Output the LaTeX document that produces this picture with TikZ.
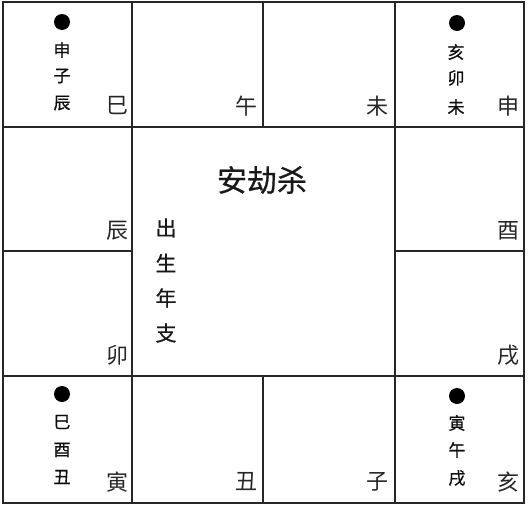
\documentclass[tikz,border=0pt]{standalone}
\usepackage{fontspec}
\newfontfamily\cjk{Noto Sans CJK SC}
\newfontfamily\cjkmed[FakeBold=0.6]{Noto Sans CJK SC}
\begin{document}
\begin{tikzpicture}[x=1pt,y=-1pt,
  grid/.style={draw=black!85,line width=2pt},
  branch/.style={font=\cjk\fontsize{22}{22}\selectfont,text=black!85,inner sep=0pt},
  small/.style={font=\cjkmed\fontsize{17}{17}\selectfont,text=black!95,inner sep=0pt},
  title/.style={font=\cjkmed\fontsize{30}{30}\selectfont,text=black!90,inner sep=0pt},
  side/.style={font=\cjkmed\fontsize{21}{21}\selectfont,text=black!90,inner sep=0pt},
  dot/.style={fill=black}]
\useasboundingbox (0,0) rectangle (528,506);
% grid
\draw[grid] (3,2) rectangle (524,503);
\draw[grid] (3,127) -- (524,127);
\draw[grid] (3,376) -- (524,376);
\draw[grid] (3,251) -- (132,251);
\draw[grid] (395,251) -- (524,251);
\draw[grid] (132,2) -- (132,503);
\draw[grid] (395,2) -- (395,503);
\draw[grid] (263,2) -- (263,127);
\draw[grid] (263,376) -- (263,503);
% branch labels
\node[branch] (si) at (117,106) {巳};
\node[branch] (wu) at (246,106) {午};
\node[branch] (wei) at (377,106) {未};
\node[branch] (shen) at (508,106) {申};
\node[branch] (chen) at (117,231) {辰};
\node[branch] (you) at (508,231) {酉};
\node[branch] (mao) at (117,355) {卯};
\node[branch] (xu) at (508,355) {戌};
\node[branch] (yin) at (117,482) {寅};
\node[branch] (chou) at (246,482) {丑};
\node[branch] (zi) at (377,482) {子};
\node[branch] (hai) at (508,482) {亥};
% dots
\fill[dot] (62,22) circle (8);
\fill[dot] (457,23) circle (8);
\fill[dot] (62,394) circle (8);
\fill[dot] (457,396) circle (8);
% small columns
\node[small] (a1) at (62,50) {申};
\node[small] (a2) at (62,76) {子};
\node[small] (a3) at (62,103) {辰};
\node[small] (b1) at (456,52) {亥};
\node[small] (b2) at (456,78) {卯};
\node[small] (b3) at (456,107) {未};
\node[small] (c1) at (62,422) {巳};
\node[small] (c2) at (62,450) {酉};
\node[small] (c3) at (62,477) {丑};
\node[small] (d1) at (457,423) {寅};
\node[small] (d2) at (457,450) {午};
\node[small] (d3) at (457,478) {戌};
% center
\node[title] (t) at (262,180) {安劫杀};
\node[side] (s1) at (166,228) {出};
\node[side] (s2) at (166,263) {生};
\node[side] (s3) at (166,298) {年};
\node[side] (s4) at (166,333) {支};
\end{tikzpicture}
\end{document}
